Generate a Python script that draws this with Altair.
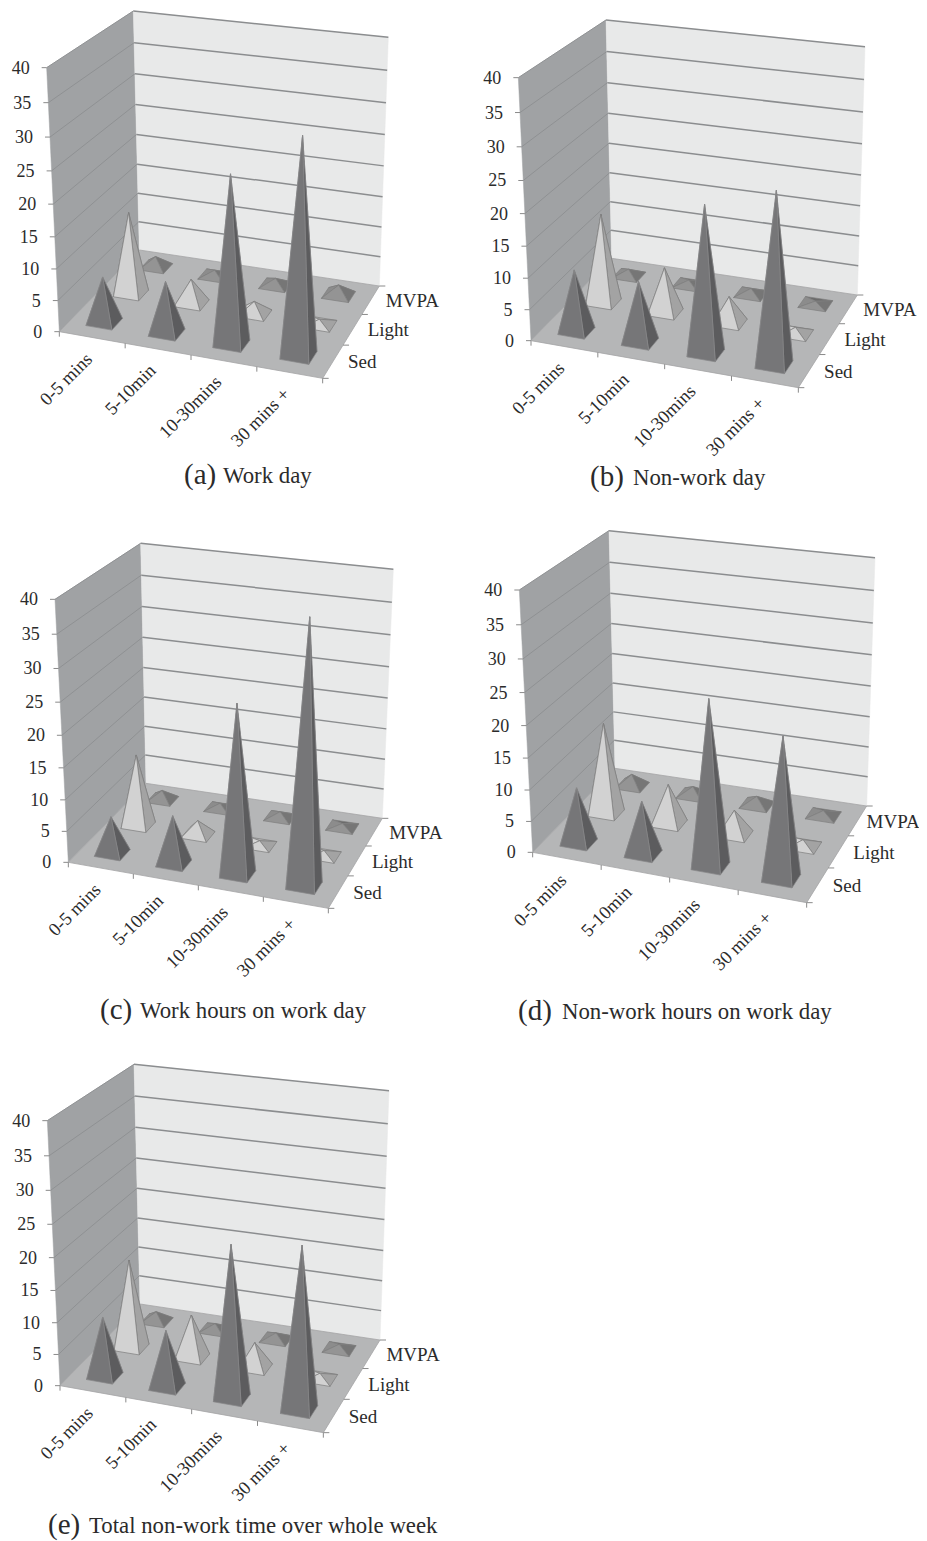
import numpy as np
import pandas as pd
import altair as alt

# ---------- values ----------
categories = ["0-5 mins", "5-10min", "10-30mins", "30 mins +"]
rows = ["Sed", "Light", "MVPA"]
y_ticks = [0, 5, 10, 15, 20, 25, 30, 35, 40]

a_sed = [7.3, 8.2, 26.2, 33.2]
a_light = [13.4, 4, 2, 0.8]
a_mvpa = [1.8, 1, 1.2, 1.7]

b_sed = [9.9, 9.7, 23.1, 26.7]
b_light = [14.6, 7.4, 4.3, 1]
b_mvpa = [1.1, 0.8, 1, 0.5]

c_sed = [5.9, 7.7, 26.5, 40.3]
c_light = [11.7, 2.4, 0.7, 0.8]
c_mvpa = [1.6, 0.9, 1, 0.6]

d_sed = [8.9, 8.5, 25.9, 22]
d_light = [14.9, 6.5, 4, 1]
d_mvpa = [2, 1.5, 1.5, 0.8]

e_sed = [9.5, 9, 23.7, 25.1]
e_light = [14.4, 7, 4.1, 0.8]
e_mvpa = [1.6, 1.1, 1.1, 0.8]

captions = [
    ("(a)", "Work day"),
    ("(b)", "Non-work day"),
    ("(c)", "Work hours on work day"),
    ("(d)", "Non-work hours on work day"),
    ("(e)", "Total non-work time over whole week"),
]
panel_values = [
    (a_sed, a_light, a_mvpa),
    (b_sed, b_light, b_mvpa),
    (c_sed, c_light, c_mvpa),
    (d_sed, d_light, d_mvpa),
    (e_sed, e_light, e_mvpa),
]

# ---------- the 3-D box of each panel (image pixels) ----------
def box(ox, oy, A, B, C, D, E, F, G):
    return {k: np.array([ox + v[0] / 3, oy + v[1] / 3])
            for k, v in dict(A=A, B=B, C=C, D=D, E=E, F=F, G=G).items()}

boxes = [
    box(0, 0, (178, 995), (968, 1135), (1138, 858), (418, 750), (140, 203), (400, 33), (1165, 112)),
    box(460, 0, (213, 1022), (1015, 1163), (1192, 885), (455, 775), (175, 233), (438, 60), (1215, 140)),
    box(0, 510, (205, 1057), (985, 1195), (1147, 925), (438, 820), (165, 268), (422, 100), (1180, 178)),
    box(460, 510, (218, 1027), (1040, 1178), (1220, 888), (465, 775), (178, 240), (447, 62), (1245, 143)),
    box(0, 1030, (180, 1067), (970, 1208), (1140, 930), (420, 822), (142, 272), (402, 103), (1167, 182)),
]
caption_pos = [
    (184, 223, 475), (590, 633, 477), (100, 140, 1010), (518, 562, 1011), (48, 89, 1525),
]
mvpa_shift = [0, 0, 0, -6, 0]

PERSP = 1.07


def homography(p00, p10, p11, p01):
    """Map the unit square (u along front edge, v into depth) onto a quad."""
    src = [(0, 0), (1, 0), (1, 1), (0, 1)]
    dst = [p00, p10, p11, p01]
    M, b = [], []
    for (x, y), (X, Y) in zip(src, dst):
        M.append([x, y, 1, 0, 0, 0, -x * X, -y * X])
        M.append([0, 0, 0, x, y, 1, -x * Y, -y * Y])
        b += [X, Y]
    h = np.append(np.linalg.solve(np.array(M, float), np.array(b, float)), 1).reshape(3, 3)

    def f(u, v):
        w = h @ np.array([u, v, 1.0])
        return w[:2] / w[2]
    return f


def frac(value):
    s = value / 40
    return s / (s + (1 - s) * PERSP)


FACES = {
    "Sed": dict(back="#6e6e6f", left="#828283", front="#767678", right="#5c5c5e", stroke="#88888a"),
    "Light": dict(back="#b5b5b5", left="#d4d4d4", front="#d2d2d2", right="#a3a3a3", stroke="#7c7c7c"),
    "MVPA": dict(back="#6b6b6b", left="#8c8c8c", front="#949494", right="#767676", stroke="#7e7e7e"),
}
HALF_U, HALF_V = 0.0525, 0.065

walls, polys, grid, ticks, texts = [], [], [], [], []
pid = 0


def add(target, pts, fill, stroke, sw=0.7):
    global pid
    pid += 1
    for i, p in enumerate(pts):
        target.append(dict(pid=pid, o=i, x=float(p[0]), y=float(p[1]), fill=fill, stroke=stroke, sw=sw))


def seg(target, p, q, color, sw):
    target.append(dict(x=float(p[0]), y=float(p[1]), x2=float(q[0]), y2=float(q[1]), color=color, sw=sw))


def text(x, y, label, size, align="left", angle=0):
    texts.append(dict(x=float(x), y=float(y), label=label, size=size, align=align, angle=angle))


for b, vals, cap, cp, shift in zip(boxes, panel_values, captions, caption_pos, mvpa_shift):
    A, B, C, D, E, F, G = (b[k] for k in "ABCDEFG")
    T = B + (E - A) + ((G - C) - (F - D)) + np.array([6.0, 0.0])
    floor = homography(A, B, C, D)
    top = homography(E, T, G, F)

    def project(u, v, h):
        return floor(u, v) + (top(u, v) - floor(u, v)) * frac(h)

    add(walls, [A, D, F, E], "#a0a2a4", "#a0a2a4", 0.5)
    add(walls, [D, C, G, F], "#e8e9e9", "#e8e9e9", 0.5)
    add(walls, [A, B, C, D], "#b5b6b7", "#a4a5a6", 0.8)

    for t in y_ticks:
        f = frac(t)
        if t > 0:
            seg(grid, A + (E - A) * f, D + (F - D) * f, "#8f9193", 1.0)
            seg(grid, D + (F - D) * f, C + (G - C) * f, "#8b8d8f", 1.5)
        p = A + (E - A) * f
        seg(ticks, p, p + np.array([-5, 0]), "#8a8a8a", 1)
        text(p[0] - 17, p[1] + 1, str(t), 18, "right")

    for i in range(5):
        p = A + (B - A) * i / 4
        seg(ticks, p, p + np.array([0, 5]), "#8a8a8a", 1)
    for j in range(4):
        p = floor(1, j / 3)
        seg(ticks, p, p + np.array([6, 0]), "#8a8a8a", 1)

    for i, label in enumerate(categories):
        p = floor((i + 0.5) / 4, 0)
        text(p[0] - 1, p[1] + 19, label, 18.5, "right", 315)
    for j, label in enumerate(rows):
        p = floor(1, (j + 0.5) / 3)
        text(p[0] + 15 + (shift if label == "MVPA" else 0), p[1] + 1, label, 19, "left")

    for j in (2, 1, 0):
        col = FACES[rows[j]]
        for i in range(4):
            u, v = (i + 0.5) / 4, (j + 0.5) / 3
            fl = floor(u - HALF_U, v - HALF_V)
            fr = floor(u + HALF_U, v - HALF_V)
            br = floor(u + HALF_U, v + HALF_V)
            bl = floor(u - HALF_U, v + HALF_V)
            apex = project(u, v, vals[j][i])
            add(polys, [bl, br, apex], col["back"], col["stroke"])
            add(polys, [fl, bl, apex], col["left"], col["stroke"])
            add(polys, [fr, br, apex], col["right"], col["stroke"])
            add(polys, [fl, fr, apex], col["front"], col["stroke"])

    text(cp[0], cp[2], cap[0], 29)
    text(cp[1], cp[2] + 1, cap[1], 22.8)

# ---------- drawing ----------
X = alt.X("x:Q", scale=alt.Scale(domain=[8, 919], range=[0, 911], nice=False, zero=False), axis=None)
Y = alt.Y("y:Q", scale=alt.Scale(domain=[1541, 8], range=[1533, 0], nice=False, zero=False), axis=None)


def poly_layer(rows_):
    return alt.Chart(pd.DataFrame(rows_)).mark_line(interpolate="linear-closed").encode(
        x=X, y=Y,
        detail="pid:N",
        order="o:Q",
        fill=alt.Fill("fill:N", scale=None),
        stroke=alt.Stroke("stroke:N", scale=None),
        strokeWidth=alt.StrokeWidth("sw:Q", scale=None),
    )


def seg_layer(rows_):
    return alt.Chart(pd.DataFrame(rows_)).mark_rule().encode(
        x=X, y=Y, x2="x2:Q", y2="y2:Q",
        stroke=alt.Stroke("color:N", scale=None),
        strokeWidth=alt.StrokeWidth("sw:Q", scale=None),
    )


tdf = pd.DataFrame(texts)
text_layers = []
for (al, an, sz), g in tdf.groupby(["align", "angle", "size"]):
    text_layers.append(
        alt.Chart(g).mark_text(font="Liberation Serif", fontSize=float(sz), align=al, angle=int(an),
                               baseline="middle", color="#2b2b2b").encode(x=X, y=Y, text="label:N")
    )

chart = alt.layer(
    poly_layer(walls), seg_layer(grid), poly_layer(polys), seg_layer(ticks), *text_layers
).properties(
    width=911, height=1533, padding=0, background="white",
    autosize=alt.AutoSizeParams(type="none"),
).configure_view(stroke=None)

chart.save("out.html", embed_options={"renderer": "svg", "actions": False})
